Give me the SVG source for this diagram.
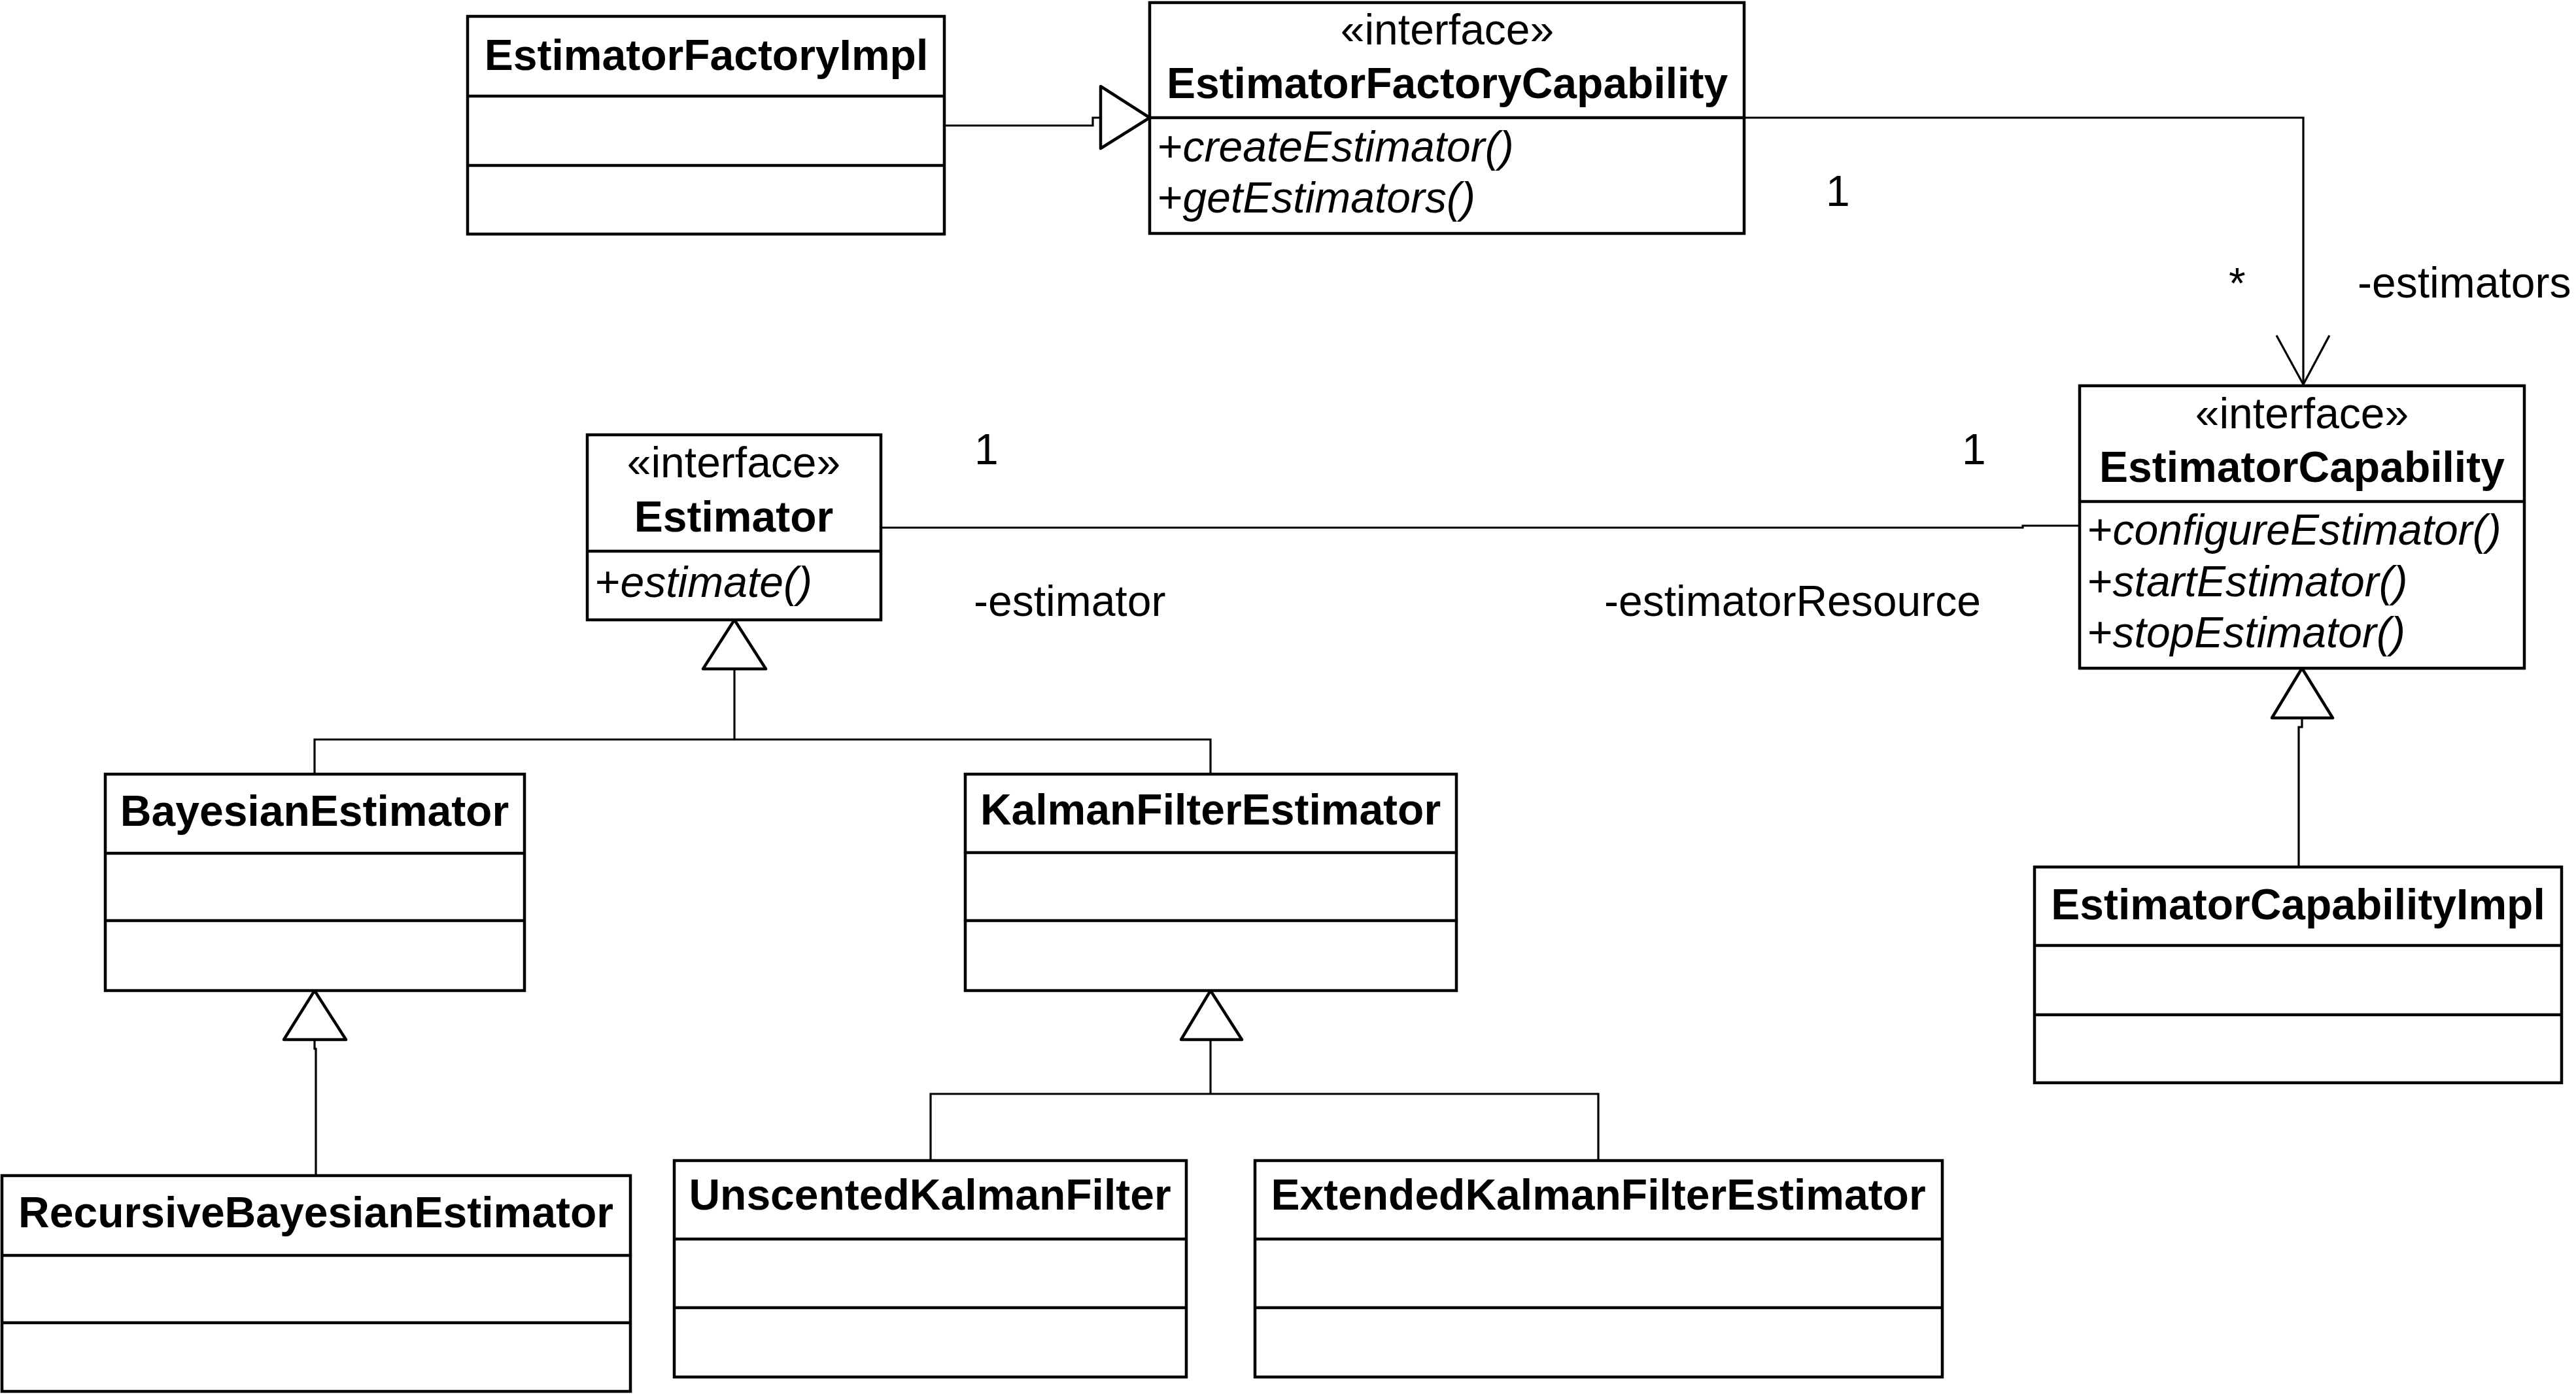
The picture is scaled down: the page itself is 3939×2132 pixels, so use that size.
<svg xmlns="http://www.w3.org/2000/svg" width="3939" height="2132" viewBox="0 0 3939 2132">
<style>
text{font-family:"Liberation Sans",Arial,sans-serif;font-size:66px;fill:#000}
.t{font-weight:bold;text-anchor:middle}
.s{text-anchor:middle}
.i{font-style:italic}
.box{fill:#fff;stroke:#000;stroke-width:4.5;stroke-linejoin:miter}
.div{stroke:#000;stroke-width:4.5}
.ln{fill:none;stroke:#000;stroke-width:3.2}
.tri{fill:#fff;stroke:#000;stroke-width:4.5;stroke-linejoin:round}
</style>
<rect width="3939" height="2132" fill="#fff"/>
<g id="connectors">
<polyline class="ln" points="1444,192 1671,192 1671,180 1683,180"/>
<polygon class="tri" points="1683,132 1758,180 1683,227"/>
<polyline class="ln" points="2667,180 3522,180 3522,588"/>
<polyline class="ln" points="3481,513 3522,588 3562,513"/>
<polyline class="ln" points="1347,807 3093,807 3093,804 3180,804"/>
<polygon class="tri" points="1123,948 1171,1023 1075,1023"/>
<polyline class="ln" points="1123,1023 1123,1131"/>
<polyline class="ln" points="481,1184 481,1131 1851,1131 1851,1184"/>
<polygon class="tri" points="481,1515 529,1590 434,1590"/>
<polyline class="ln" points="481,1590 481,1604 483,1604 483,1798"/>
<polygon class="tri" points="1851,1515 1899,1590 1806,1590"/>
<polyline class="ln" points="1851,1590 1851,1673"/>
<polyline class="ln" points="1423,1775 1423,1673 2444,1673 2444,1775"/>
<polygon class="tri" points="3520,1022 3567,1098 3474,1098"/>
<polyline class="ln" points="3520,1098 3520,1112 3515,1112 3515,1326"/>
<text x="2792" y="315">1</text>
<text x="3408" y="456">*</text>
<text x="3605" y="455">-estimators</text>
<text x="1490" y="710">1</text>
<text x="1489" y="942">-estimator</text>
<text x="3000" y="710">1</text>
<text x="2453" y="942">-estimatorResource</text>
</g>
<g id="EstimatorFactoryImpl">
<rect class="box" x="715" y="25" width="729" height="333"/>
<line class="div" x1="715" y1="147" x2="1444" y2="147"/>
<line class="div" x1="715" y1="253" x2="1444" y2="253"/>
<text class="t" x="1080" y="107">EstimatorFactoryImpl</text>
</g>
<g id="EstimatorFactoryCapability">
<rect class="box" x="1758" y="4" width="909" height="353"/>
<line class="div" x1="1758" y1="180" x2="2667" y2="180"/>
<text class="s" x="2213" y="68">«interface»</text>
<text class="t" x="2213" y="150">EstimatorFactoryCapability</text>
<text x="1770" y="247">+<tspan class="i">createEstimator()</tspan></text>
<text x="1770" y="325">+<tspan class="i">getEstimators()</tspan></text>
</g>
<g id="Estimator">
<rect class="box" x="898" y="665" width="449" height="283"/>
<line class="div" x1="898" y1="843" x2="1347" y2="843"/>
<text class="s" x="1122" y="730">«interface»</text>
<text class="t" x="1122" y="813">Estimator</text>
<text x="910" y="913">+<tspan class="i">estimate()</tspan></text>
</g>
<g id="EstimatorCapability">
<rect class="box" x="3180" y="590" width="680" height="432"/>
<line class="div" x1="3180" y1="767" x2="3860" y2="767"/>
<text class="s" x="3520" y="655">«interface»</text>
<text class="t" x="3520" y="737">EstimatorCapability</text>
<text x="3192" y="833">+<tspan class="i">configureEstimator()</tspan></text>
<text x="3192" y="912">+<tspan class="i">startEstimator()</tspan></text>
<text x="3192" y="990">+<tspan class="i">stopEstimator()</tspan></text>
</g>
<g id="BayesianEstimator">
<rect class="box" x="161" y="1184" width="641" height="331"/>
<line class="div" x1="161" y1="1305" x2="802" y2="1305"/>
<line class="div" x1="161" y1="1408" x2="802" y2="1408"/>
<text class="t" x="481" y="1263">BayesianEstimator</text>
</g>
<g id="KalmanFilterEstimator">
<rect class="box" x="1476" y="1184" width="751" height="331"/>
<line class="div" x1="1476" y1="1304" x2="2227" y2="1304"/>
<line class="div" x1="1476" y1="1408" x2="2227" y2="1408"/>
<text class="t" x="1851" y="1261">KalmanFilterEstimator</text>
</g>
<g id="RecursiveBayesianEstimator">
<rect class="box" x="3" y="1798" width="961" height="330"/>
<line class="div" x1="3" y1="1920" x2="964" y2="1920"/>
<line class="div" x1="3" y1="2023" x2="964" y2="2023"/>
<text class="t" x="483" y="1877">RecursiveBayesianEstimator</text>
</g>
<g id="UnscentedKalmanFilter">
<rect class="box" x="1031" y="1775" width="783" height="331"/>
<line class="div" x1="1031" y1="1895" x2="1814" y2="1895"/>
<line class="div" x1="1031" y1="2000" x2="1814" y2="2000"/>
<text class="t" x="1422" y="1850">UnscentedKalmanFilter</text>
</g>
<g id="ExtendedKalmanFilterEstimator">
<rect class="box" x="1919" y="1775" width="1051" height="331"/>
<line class="div" x1="1919" y1="1895" x2="2970" y2="1895"/>
<line class="div" x1="1919" y1="2000" x2="2970" y2="2000"/>
<text class="t" x="2444" y="1850">ExtendedKalmanFilterEstimator</text>
</g>
<g id="EstimatorCapabilityImpl">
<rect class="box" x="3111" y="1326" width="806" height="330"/>
<line class="div" x1="3111" y1="1446" x2="3917" y2="1446"/>
<line class="div" x1="3111" y1="1552" x2="3917" y2="1552"/>
<text class="t" x="3514" y="1406">EstimatorCapabilityImpl</text>
</g>
</svg>
